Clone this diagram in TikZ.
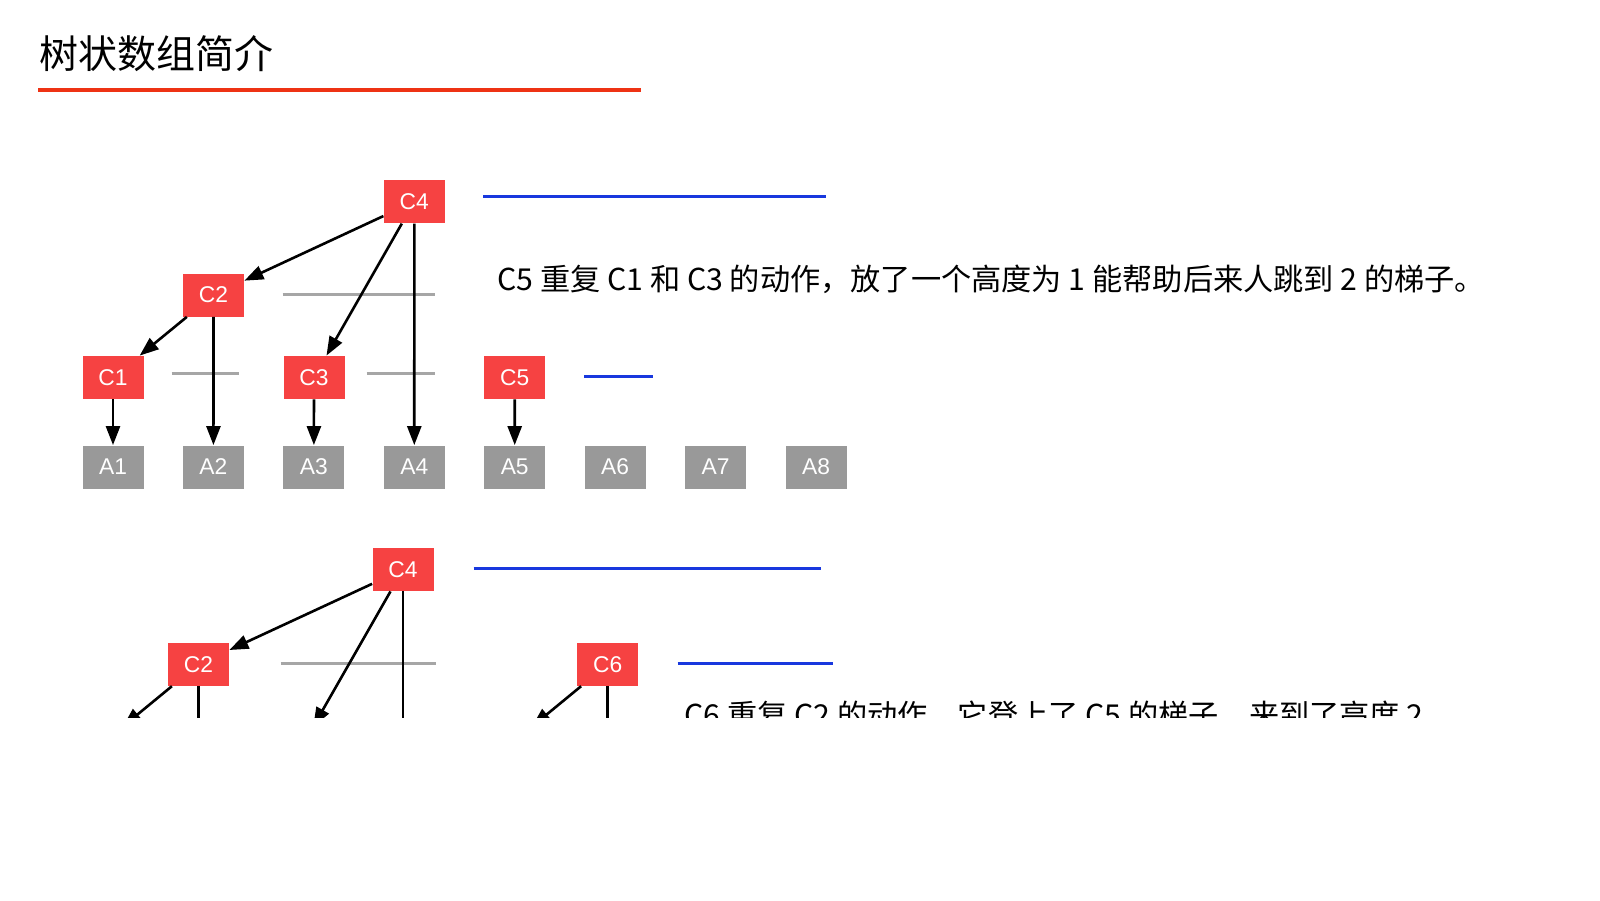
\documentclass[tikz,border=0pt]{standalone}
\usepackage{fontspec}
\setmainfont{Liberation Sans}
\newfontfamily\cjk{Noto Sans CJK SC}
\usetikzlibrary{arrows.meta, positioning, calc}
\definecolor{boxred}{RGB}{246,66,66}
\definecolor{boxgray}{RGB}{153,153,153}
\definecolor{ladgray}{RGB}{166,166,166}
\definecolor{markblue}{RGB}{24,56,222}
\definecolor{titlered}{RGB}{238,50,20}

\begin{document}
\begin{tikzpicture}[x=0.5pt, y=-0.5pt,
  cbox/.style={fill=boxred, text=white, minimum width=30.5pt, minimum height=21.5pt,
    inner sep=0pt, font=\fontsize{11.4}{12}\selectfont},
  abox/.style={cbox, fill=boxgray},
  link/.style={-{Triangle[length=9.5pt, width=7pt]}, line width=1.3pt},
  ladder/.style={draw=ladgray, line width=1.2pt},
  level/.style={draw=markblue, line width=1.4pt},
  note/.style={anchor=west, inner sep=0pt, font=\cjk\fontsize{15.1}{17}\selectfont}]
  \useasboundingbox (0,0) rectangle (1600,900);

  \node[anchor=west, inner sep=0pt, font=\cjk\fontsize{19.5}{22}\selectfont] (title) at (39,54) {树状数组简介};
  \draw[titlered, line width=2pt] (38,89.5) -- (641,89.5);

  % upper tree
  \foreach \i in {1,...,8}
    \node[abox] (a\i) at ({113+100.43*(\i-1)},467) {A\i};
  \node[cbox] (c1) at (113,377.5) {C1};
  \node[cbox] (c3) at (314,377.5) {C3};
  \node[cbox] (c5) at (514.7,377.5) {C5};
  \node[cbox] (c2) at (213.5,295) {C2};
  \node[cbox] (c4) at (414.3,201.7) {C4};
  \draw[ladder] (282.7,294.3) -- (435,294.3);
  \draw[ladder] (171.7,373.3) -- (239.3,373.3);
  \draw[ladder] (366.7,373.3) -- (435,373.3);
  \foreach \u/\v in {c4/c2, c4/c3, c4/a4, c2/c1, c2/a2, c1/a1, c3/a3, c5/a5}
    \draw[link] (\u) -- (\v);
  \draw[level] (483.3,196.7) -- (825.7,196.7);
  \draw[level] (584,376.7) -- (652.7,376.7);
  \node[note] (t1) at (497,279) {C5 重复 C1 和 C3 的动作，放了一个高度为 1 能帮助后来人跳到 2 的梯子。};

  % lower tree, cut off
  \begin{scope}
    \clip (0,0) rectangle (1600,717.5);
    \node[cbox] (d4) at (403,569.5) {C4};
    \node[cbox] (d2) at (198.5,664.3) {C2};
    \node[cbox] (d6) at (607.7,664.3) {C6};
    \coordinate (e1) at (122.9,726.5);
    \coordinate (e3) at (313.3,726.5);
    \coordinate (e5) at (532.1,726.5);
    \coordinate (f2) at (198.5,760);
    \coordinate (f4) at (403,760);
    \coordinate (f6) at (607.7,760);
    \draw[ladder] (280.6,663.3) -- (435.7,663.3);
    \foreach \u/\v in {d4/d2, d4/e3, d2/e1, d6/e5}
      \draw[link] (\u) -- (\v);
    \foreach \u/\v in {d4/f4, d2/f2, d6/f6}
      \draw[line width=1.3pt] (\u) -- (\v);
    \draw[level] (473.5,568.4) -- (821.4,568.4);
    \draw[level] (677.6,663.3) -- (832.7,663.3);
    \node[note] (t2) at (684,715) {C6 重复 C2 的动作，它登上了 C5 的梯子，来到了高度 2。};
  \end{scope}
\end{tikzpicture}
\end{document}
